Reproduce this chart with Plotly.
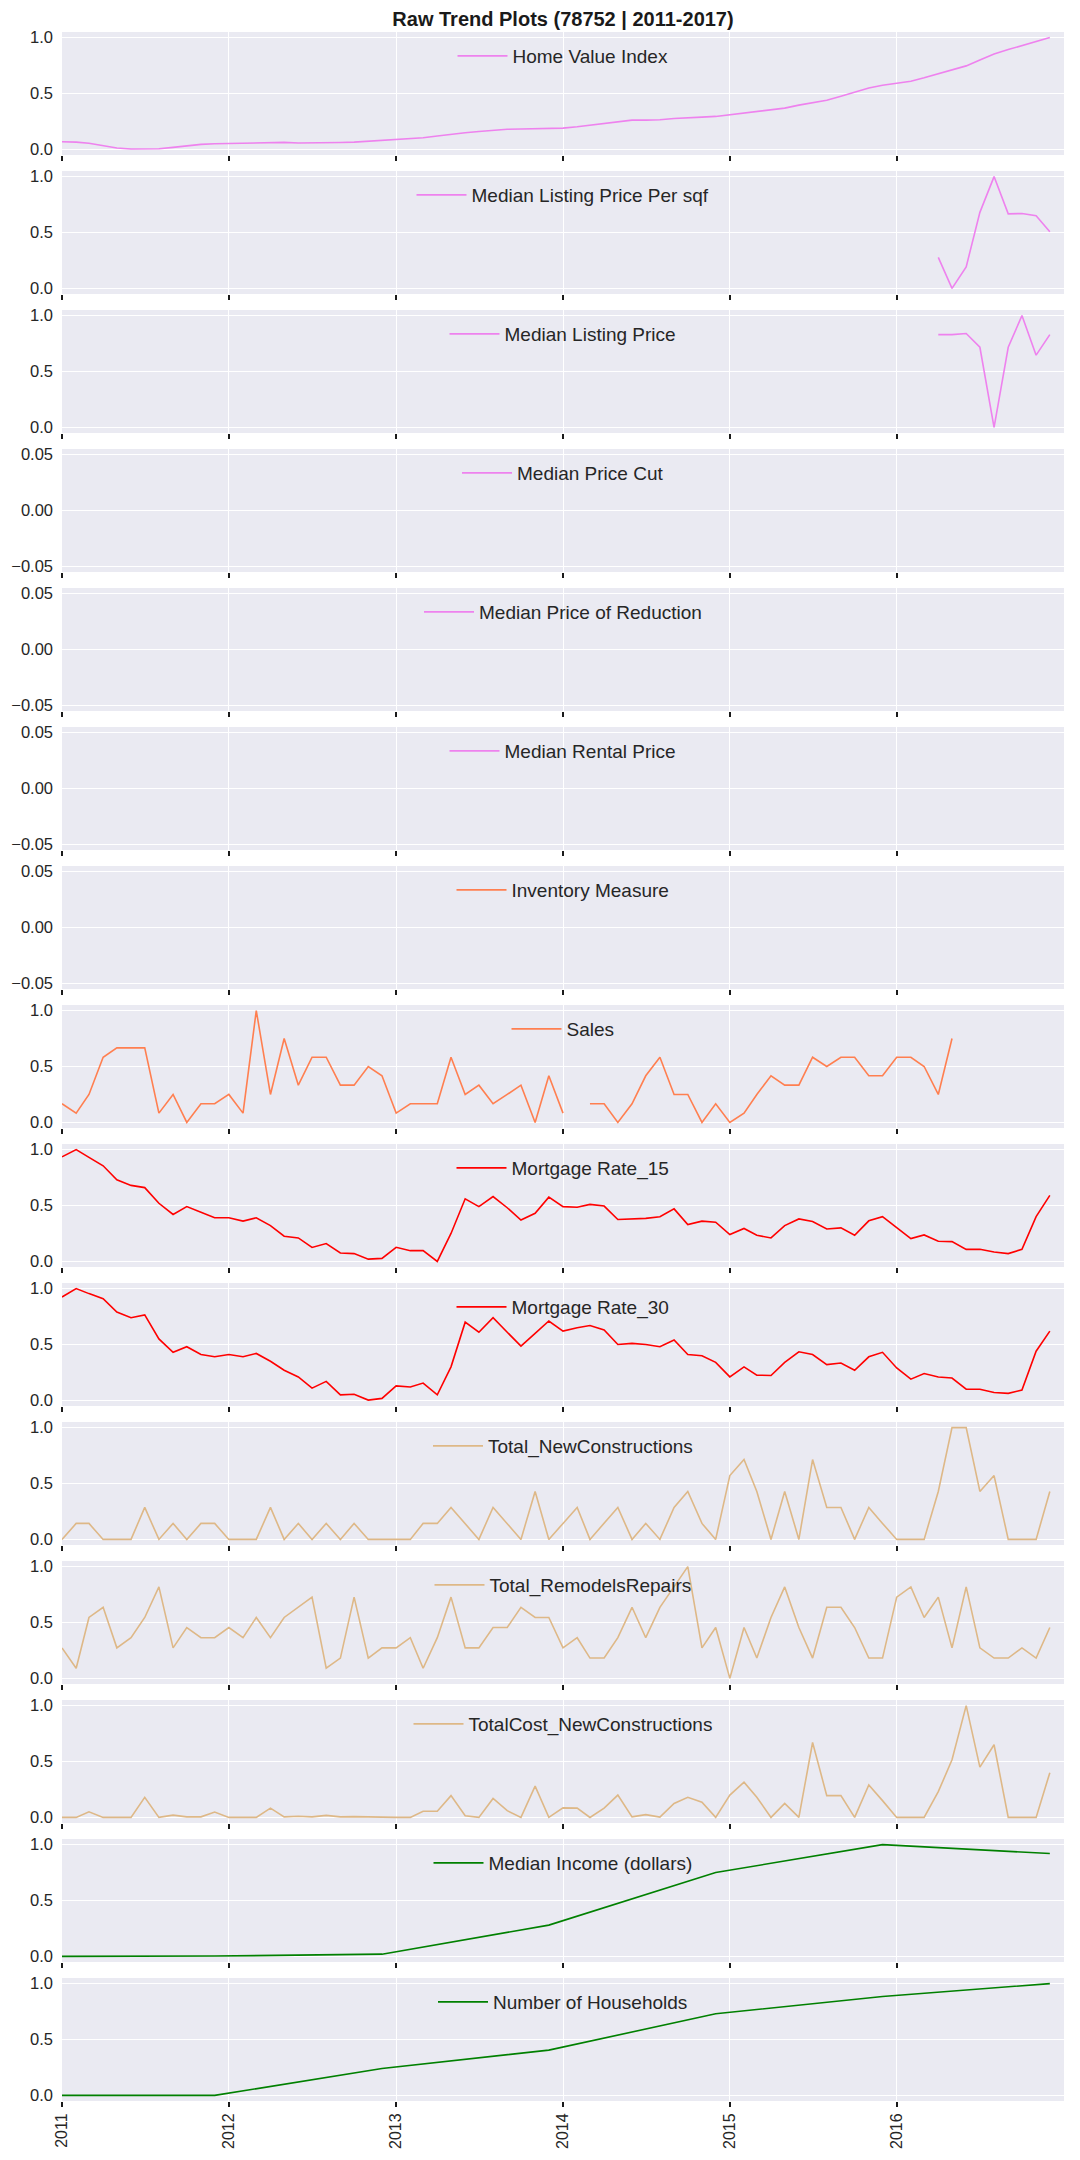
import pandas as pd
import plotly.graph_objects as go
from plotly.subplots import make_subplots

# monthly index of the raw trend table
months = pd.date_range("2011-01-01", periods=72, freq="MS")
years = ["2011", "2012", "2013", "2014", "2015", "2016"]
year_dates = [f"{y}-01-01" for y in years]

home_value_index = [
    0.068, 0.065, 0.055, 0.03, 0.012, 0.003, 0.003, 0.006, 0.018, 0.033, 0.045, 0.05,
    0.054, 0.054, 0.06, 0.065, 0.063, 0.057, 0.057, 0.06, 0.062, 0.065, 0.074, 0.083,
    0.09, 0.095, 0.104, 0.12, 0.137, 0.149, 0.16, 0.173, 0.18, 0.182, 0.185, 0.188,
    0.19, 0.202, 0.217, 0.232, 0.247, 0.262, 0.262, 0.265, 0.277, 0.286, 0.289, 0.295,
    0.31, 0.324, 0.333, 0.348, 0.369, 0.396, 0.417, 0.44, 0.476, 0.515, 0.55, 0.574,
    0.59, 0.61, 0.64, 0.676, 0.708, 0.747, 0.80, 0.854, 0.893, 0.929, 0.967, 1.0]

listing_price_sqf = [None] * 63 + [0.277, 0.0, 0.193, 0.68, 1.0, 0.667, 0.67, 0.65, 0.506]
listing_price = [None] * 63 + [0.83, 0.83, 0.84, 0.717, 0.0, 0.717, 1.0, 0.646, 0.83]
price_cut = [None] * 72
price_reduction = [None] * 72
rental_price = [None] * 72
inventory = [None] * 72

sales = [
    0.167, 0.083, 0.25, 0.583, 0.667, 0.667, 0.667, 0.083, 0.25, 0.0, 0.167, 0.167,
    0.25, 0.083, 1.0, 0.25, 0.75, 0.333, 0.583, 0.583, 0.333, 0.333, 0.5, 0.417,
    0.083, 0.167, 0.167, 0.167, 0.583, 0.25, 0.333, 0.167, 0.25, 0.333, 0.0, 0.417,
    0.083, None, 0.167, 0.167, 0.0, 0.167, 0.417, 0.583, 0.25, 0.25, 0.0, 0.167,
    0.0, 0.083, 0.25, 0.417, 0.333, 0.333, 0.583, 0.5, 0.583, 0.583, 0.417, 0.417,
    0.583, 0.583, 0.5, 0.25, 0.75, None, None, None, None, None, None, None]

mortgage_15 = [
    0.935, 1.0, 0.93, 0.855, 0.73, 0.68, 0.66, 0.52, 0.42, 0.49, 0.44, 0.39,
    0.39, 0.36, 0.39, 0.32, 0.225, 0.21, 0.125, 0.16, 0.075, 0.07, 0.02, 0.027,
    0.126, 0.096, 0.096, 0.0, 0.25, 0.56, 0.49, 0.58, 0.48, 0.37, 0.43, 0.575,
    0.49, 0.485, 0.51, 0.495, 0.375, 0.38, 0.385, 0.40, 0.47, 0.33, 0.36, 0.35,
    0.24, 0.295, 0.234, 0.21, 0.32, 0.38, 0.357, 0.29, 0.30, 0.234, 0.363, 0.40,
    0.30, 0.204, 0.237, 0.18, 0.177, 0.108, 0.108, 0.084, 0.07, 0.108, 0.40, 0.59]

mortgage_30 = [
    0.925, 1.0, 0.955, 0.91, 0.79, 0.74, 0.765, 0.55, 0.43, 0.48, 0.41, 0.39,
    0.41, 0.39, 0.42, 0.35, 0.27, 0.21, 0.11, 0.17, 0.05, 0.055, 0.003, 0.018,
    0.13, 0.12, 0.155, 0.05, 0.30, 0.70, 0.61, 0.74, 0.61, 0.485, 0.60, 0.71,
    0.62, 0.65, 0.67, 0.63, 0.50, 0.51, 0.50, 0.48, 0.54, 0.41, 0.40, 0.34,
    0.21, 0.30, 0.226, 0.223, 0.34, 0.435, 0.41, 0.32, 0.335, 0.27, 0.39, 0.43,
    0.29, 0.19, 0.24, 0.21, 0.20, 0.10, 0.10, 0.07, 0.063, 0.093, 0.44, 0.62]

new_constructions = [
    0.0, 0.143, 0.143, 0.0, 0.0, 0.0, 0.286, 0.0, 0.143, 0.0, 0.143, 0.143,
    0.0, 0.0, 0.0, 0.286, 0.0, 0.143, 0.0, 0.143, 0.0, 0.143, 0.0, 0.0,
    0.0, 0.0, 0.143, 0.143, 0.286, 0.143, 0.0, 0.286, 0.143, 0.0, 0.429, 0.0,
    0.143, 0.286, 0.0, 0.143, 0.286, 0.0, 0.143, 0.0, 0.286, 0.429, 0.143, 0.0,
    0.571, 0.714, 0.429, 0.0, 0.429, 0.0, 0.714, 0.286, 0.286, 0.0, 0.286, 0.143,
    0.0, 0.0, 0.0, 0.429, 1.0, 1.0, 0.429, 0.571, 0.0, 0.0, 0.0, 0.429]

remodels_repairs = [
    0.273, 0.091, 0.545, 0.636, 0.273, 0.364, 0.545, 0.818, 0.273, 0.455, 0.364, 0.364,
    0.455, 0.364, 0.545, 0.364, 0.545, 0.636, 0.727, 0.091, 0.182, 0.727, 0.182, 0.273,
    0.273, 0.364, 0.091, 0.364, 0.727, 0.273, 0.273, 0.455, 0.455, 0.636, 0.545, 0.545,
    0.273, 0.364, 0.182, 0.182, 0.364, 0.636, 0.364, 0.636, 0.818, 1.0, 0.273, 0.455,
    0.0, 0.455, 0.182, 0.545, 0.818, 0.455, 0.182, 0.636, 0.636, 0.455, 0.182, 0.182,
    0.727, 0.818, 0.545, 0.727, 0.273, 0.818, 0.273, 0.182, 0.182, 0.273, 0.182, 0.455]

total_cost_new = [
    0.0, 0.0, 0.05, 0.0, 0.0, 0.0, 0.18, 0.0, 0.02, 0.005, 0.005, 0.048,
    0.0, 0.0, 0.0, 0.083, 0.005, 0.01, 0.005, 0.018, 0.005, 0.007, 0.003, 0.003,
    0.0, 0.0, 0.055, 0.055, 0.195, 0.015, 0.0, 0.17, 0.06, 0.0, 0.28, 0.0,
    0.085, 0.083, 0.0, 0.083, 0.2, 0.005, 0.025, 0.003, 0.125, 0.18, 0.135, 0.0,
    0.2, 0.315, 0.18, 0.0, 0.125, 0.0, 0.67, 0.195, 0.195, 0.0, 0.29, 0.15,
    0.0, 0.0, 0.0, 0.23, 0.515, 1.0, 0.45, 0.65, 0.0, 0.0, 0.0, 0.40]

# yearly census series
census_dates = ["2011-01-01", "2011-12-01", "2012-12-01", "2013-12-01",
                "2014-12-01", "2015-12-01", "2016-12-01"]
median_income = [0.0, 0.003, 0.02, 0.28, 0.75, 1.0, 0.92]
households = [0.0, 0.0, 0.24, 0.405, 0.73, 0.885, 1.0]

series = [
    ("Home Value Index", months, home_value_index, "#EE82EE"),
    ("Median Listing Price Per sqf", months, listing_price_sqf, "#EE82EE"),
    ("Median Listing Price", months, listing_price, "#EE82EE"),
    ("Median Price Cut", months, price_cut, "#EE82EE"),
    ("Median Price of Reduction", months, price_reduction, "#EE82EE"),
    ("Median Rental Price", months, rental_price, "#EE82EE"),
    ("Inventory Measure", months, inventory, "#FF7F50"),
    ("Sales", months, sales, "#FF7F50"),
    ("Mortgage Rate_15", months, mortgage_15, "#FF0000"),
    ("Mortgage Rate_30", months, mortgage_30, "#FF0000"),
    ("Total_NewConstructions", months, new_constructions, "#DEB887"),
    ("Total_RemodelsRepairs", months, remodels_repairs, "#DEB887"),
    ("TotalCost_NewConstructions", months, total_cost_new, "#DEB887"),
    ("Median Income (dollars)", census_dates, median_income, "#008000"),
    ("Number of Households", census_dates, households, "#008000"),
]

# the page body adds an 8px offset, so the figure is a bit smaller than the window
W, H = 1072, 2152
top, bottom, left, right = 24, 59, 54, 16
plot_h = H - top - bottom
gap = 16
pitch = 139
n = len(series)

fig = make_subplots(rows=n, cols=1, shared_xaxes=True, vertical_spacing=gap / plot_h)

text_color = "#262626"
font_family = "Liberation Sans, Arial, sans-serif"

for i, (name, x, y, color) in enumerate(series):
    leg = "legend" if i == 0 else f"legend{i + 1}"
    fig.add_trace(go.Scatter(x=x, y=y, mode="lines", name=name,
                             line=dict(color=color, width=1.6),
                             legend=leg, showlegend=True),
                  row=i + 1, col=1)
    centre_px = top + pitch * i + 24
    fig.update_layout({leg: dict(x=0.5, xanchor="center", xref="paper",
                                 y=(H - bottom - centre_px) / plot_h, yanchor="middle",
                                 yref="paper", bgcolor="rgba(0,0,0,0)", itemwidth=50,
                                 font=dict(size=19, color=text_color, family=font_family))})

    empty = all(v is None for v in y)
    if empty:
        fig.update_yaxes(row=i + 1, col=1, range=[-0.055, 0.055],
                         tickvals=[-0.05, 0.0, 0.05], ticktext=["\u22120.05", "0.00", "0.05"])
    else:
        fig.update_yaxes(row=i + 1, col=1, range=[-0.05, 1.05],
                         tickvals=[0.0, 0.5, 1.0], ticktext=["0.0", "0.5", "1.0"])

    fig.update_xaxes(row=i + 1, col=1, type="date",
                     range=["2011-01-01", "2017-01-01"],
                     tickvals=year_dates, ticktext=years,
                     ticks="outside", ticklen=5, tickwidth=1.5, tickcolor="#1a1a1a",
                     showticklabels=(i == n - 1), tickangle=-90)

fig.update_xaxes(showgrid=True, gridcolor="white", gridwidth=1.3,
                 showline=False, zeroline=False, automargin=False,
                 tickfont=dict(size=16, color=text_color, family=font_family))
fig.update_yaxes(showgrid=True, gridcolor="white", gridwidth=1.3,
                 showline=False, zeroline=False, automargin=False, ticklabelstandoff=8,
                 tickfont=dict(size=16.5, color=text_color, family=font_family))

fig.update_layout(
    width=W, height=H,
    margin=dict(l=left, r=right, t=top, b=bottom, autoexpand=False),
    plot_bgcolor="#EAEAF2", paper_bgcolor="white",
    title=dict(text="<b>Raw Trend Plots (78752 | 2011-2017)</b>",
               x=0.5, xref="paper", xanchor="center",
               y=1 - 11 / H, yref="container", yanchor="middle",
               font=dict(size=20, color="#1a1a1a", family=font_family)),
    font=dict(family=font_family, color=text_color),
)

fig.write_html("out.html")
